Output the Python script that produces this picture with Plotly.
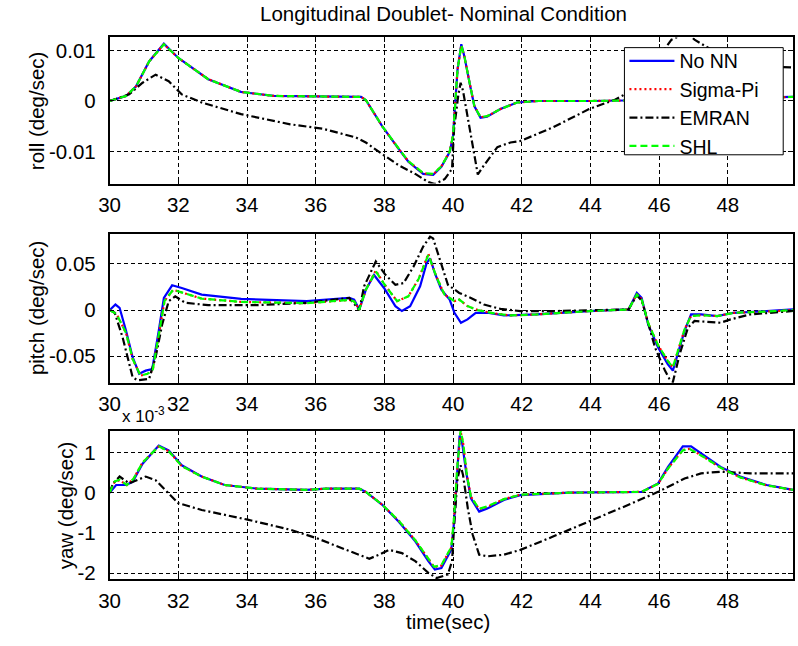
import plotly.graph_objects as go

# ---------------- data ----------------
# time ticks shared by all three panels
x_ticks = [30, 32, 34, 36, 38, 40, 42, 44, 46, 48]

# roll rate (deg/sec)
roll_t_nonn = [30, 30.48, 30.77, 31.15, 31.58, 32.0, 32.87, 33.82, 34.78, 36.0, 37.0, 37.32, 37.46,
               37.94, 38.42, 38.7, 39.13, 39.42, 39.66, 39.9, 40.0, 40.06, 40.13, 40.24, 40.33, 40.48,
               40.62, 40.8, 40.99, 41.38, 41.86, 42.5, 44.0, 46.0, 48.0, 49.9]
roll_nonn = [0, 0.001, 0.0029, 0.0078, 0.0113, 0.0085, 0.0043, 0.0018, 0.001, 0.0009, 0.0009, 0.0008,
             0.0002, -0.005, -0.0095, -0.012, -0.0144, -0.0146, -0.013, -0.0101, -0.0069, -0.001, 0.0062,
             0.0112, 0.0088, 0.0036, -0.001, -0.0033, -0.0031, -0.0016, -0.0003, 0.0, 0.0, 0.0002,
             0.0006, 0.0008]
roll_sigma = [0, 0.001, 0.0029, 0.0078, 0.0112, 0.0085, 0.0043, 0.0018, 0.001, 0.0009, 0.0009, 0.0008,
              0.0002, -0.005, -0.0095, -0.0119, -0.0143, -0.0145, -0.0129, -0.01, -0.0068, -0.001, 0.0062,
              0.011, 0.0088, 0.0036, -0.001, -0.0032, -0.003, -0.0016, -0.0003, 0.0, 0.0, 0.0002,
              0.0006, 0.0008]
roll_shl = [0, 0.001, 0.0029, 0.0078, 0.0112, 0.0085, 0.0043, 0.0018, 0.001, 0.0009, 0.0009, 0.0008,
            0.0002, -0.005, -0.0094, -0.0119, -0.0142, -0.0144, -0.0129, -0.01, -0.0068, -0.001, 0.0062,
            0.011, 0.0088, 0.0036, -0.001, -0.0032, -0.003, -0.0016, -0.0003, 0.0, 0.0, 0.0002,
            0.0006, 0.0008]
roll_t_emran = [30, 30.57, 30.96, 31.34, 31.72, 32.1, 32.68, 33.83, 35.26, 36.22, 37.17, 37.46, 37.94,
                38.42, 38.9, 39.28, 39.47, 39.76, 39.97, 40.03, 40.15, 40.22, 40.29, 40.38, 40.53, 40.72,
                40.9, 41.1, 41.29, 41.67, 41.96, 42.91, 43.96, 44.73, 45.0, 45.6, 46.36, 46.8, 47.03,
                47.6, 48.5, 49.2, 49.9]
roll_emran = [0, 0.0013, 0.0036, 0.0052, 0.0039, 0.0013, -0.0003, -0.0026, -0.0046, -0.0055, -0.0072,
              -0.0082, -0.0105, -0.0127, -0.0144, -0.016, -0.0164, -0.0154, -0.0134, -0.0055, 0.001,
              0.0036, 0.002, -0.0016, -0.0075, -0.0145, -0.0127, -0.0108, -0.0091, -0.0082, -0.0079,
              -0.0052, -0.0016, 0.0003, 0.0013, 0.005, 0.0121, 0.0135, 0.0121, 0.0098, 0.0078, 0.0068,
              0.0066]

# pitch rate (deg/sec)
pitch_t_nonn = [30, 30.17, 30.29, 30.48, 30.67, 30.86, 31.05, 31.24, 31.43, 31.58, 31.82, 32.1, 32.68,
                33.83, 35.74, 36.98, 37.12, 37.27, 37.46, 37.7, 37.99, 38.32, 38.51, 38.75, 39.04, 39.23,
                39.33, 39.47, 39.66, 39.9, 40.04, 40.23, 40.42, 40.66, 41.0, 41.48, 42.43, 43.96, 45.11,
                45.35, 45.49, 45.68, 45.97, 46.25, 46.4, 46.55, 46.74, 46.93, 47.22, 47.69, 48.17, 49.13,
                49.9]
pitch_nonn = [0, 0.006, 0.0025, -0.0226, -0.051, -0.069, -0.0656, -0.064, -0.0226, 0.0132, 0.0269,
              0.024, 0.0168, 0.0122, 0.0097, 0.0132, 0.0114, 0.0007, 0.022, 0.038, 0.024, 0.0043, -0.001,
              0.0043, 0.0258, 0.0508, 0.0562, 0.0401, 0.0222, 0.0114, -0.0029, -0.0137, -0.0101,
              -0.0029, -0.0029, -0.0058, -0.0047, -0.0011, 0.0007, 0.0186, 0.0132, -0.0155, -0.0405,
              -0.0585, -0.0656, -0.0477, -0.0226, -0.0047, -0.0047, -0.0065, -0.0029, -0.0011, 0.0007]
pitch_t_shl = [30, 30.2, 30.48, 30.67, 30.9, 31.1, 31.25, 31.43, 31.6, 31.85, 32.1, 32.68, 33.83, 35.74,
               36.98, 37.12, 37.27, 37.46, 37.75, 38.0, 38.37, 38.7, 39.0, 39.28, 39.51, 39.75, 40.04,
               40.18, 40.42, 40.72, 41.19, 41.67, 42.43, 43.96, 45.11, 45.35, 45.49, 45.68, 45.97, 46.25,
               46.4, 46.55, 46.74, 46.93, 47.22, 47.69, 48.17, 49.13, 49.9]
pitch_sigma = [0, -0.004, -0.025, -0.053, -0.071, -0.069, -0.066, -0.025, 0.01, 0.022, 0.019, 0.0125,
               0.0089, 0.0075, 0.011, 0.0095, 0.0005, 0.022, 0.043, 0.028, 0.0097, 0.015, 0.034, 0.061,
               0.0366, 0.0168, 0.0097, 0.0114, 0.0043, 0.0, -0.0036, -0.0058, -0.0047, -0.0011, 0.0007,
               0.017, 0.012, -0.014, -0.038, -0.055, -0.062, -0.045, -0.021, -0.0065, -0.0055, -0.0065,
               -0.003, -0.0015, 0.0]
pitch_shl = [0, -0.004, -0.025, -0.053, -0.071, -0.069, -0.066, -0.025, 0.01, 0.022, 0.019, 0.0125,
             0.0089, 0.0075, 0.011, 0.0095, 0.0005, 0.022, 0.042, 0.028, 0.0097, 0.015, 0.034, 0.06,
             0.0366, 0.0168, 0.0097, 0.0114, 0.0043, 0.0, -0.0036, -0.0058, -0.0047, -0.0011, 0.0007,
             0.017, 0.012, -0.014, -0.038, -0.055, -0.062, -0.045, -0.021, -0.0065, -0.0055, -0.0065,
             -0.003, -0.0015, 0.0]
pitch_t_emran = [30, 30.15, 30.38, 30.67, 30.81, 31.15, 31.34, 31.53, 31.72, 31.91, 32.2, 32.87, 34.3,
                 35.74, 36.98, 37.27, 37.41, 37.75, 38.03, 38.32, 38.56, 38.85, 39.13, 39.33, 39.42,
                 39.61, 39.85, 40.18, 40.52, 40.9, 41.38, 41.96, 43.0, 45.11, 45.35, 45.5, 45.88, 46.17,
                 46.3, 46.4, 46.6, 46.84, 47.03, 47.79, 48.08, 48.65, 49.84, 49.9]
pitch_emran = [0, -0.003, -0.0298, -0.0728, -0.076, -0.0746, -0.051, -0.0155, 0.0097, 0.015, 0.0079,
               0.0054, 0.0054, 0.0079, 0.0132, 0.0, 0.0258, 0.0527, 0.0383, 0.0275, 0.0293, 0.0473,
               0.0688, 0.0796, 0.0777, 0.0544, 0.0275, 0.0186, 0.0132, 0.006, 0.0014, -0.0011, -0.001,
               0.0007, 0.016, 0.01, -0.0405, -0.0656, -0.0746, -0.078, -0.0477, -0.019, -0.0118, -0.0137,
               -0.0101, -0.0047, -0.0011, -0.001]

# yaw rate (x 10^-3 deg/sec)
yaw_t_nonn = [30, 30.19, 30.48, 30.67, 30.96, 31.43, 31.72, 32.1, 32.68, 33.35, 34.3, 35.74, 36.31,
              37.27, 37.46, 37.94, 38.42, 38.9, 39.28, 39.47, 39.66, 39.95, 40.03, 40.12, 40.19, 40.26,
              40.38, 40.52, 40.76, 41.0, 41.48, 41.96, 43.39, 45.49, 45.97, 46.26, 46.69, 46.93, 47.31,
              47.79, 48.36, 49.13, 49.9]
yaw_nonn = [0, 0.19, 0.19, 0.27, 0.72, 1.17, 1.05, 0.68, 0.4, 0.19, 0.1, 0.07, 0.1, 0.1, 0.02, -0.3,
            -0.72, -1.21, -1.7, -1.91, -1.87, -1.41, -0.72, 0.52, 1.42, 1.26, 0.52, -0.14, -0.47, -0.39,
            -0.18, -0.06, 0.0, 0.02, 0.23, 0.64, 1.15, 1.15, 0.93, 0.64, 0.4, 0.19, 0.07]
yaw_t_shl = [30, 30.15, 30.29, 30.5, 30.7, 30.96, 31.43, 31.72, 32.1, 32.68, 33.35, 34.3, 35.74, 36.31,
             37.27, 37.46, 37.94, 38.42, 38.9, 39.28, 39.45, 39.66, 39.95, 40.03, 40.12, 40.22, 40.3,
             40.4, 40.52, 40.76, 41.0, 41.48, 41.96, 43.39, 45.49, 45.97, 46.26, 46.69, 46.9, 47.31,
             47.79, 48.36, 49.13, 49.9]
yaw_sigma = [0, 0.27, 0.31, 0.19, 0.35, 0.75, 1.15, 1.03, 0.66, 0.4, 0.19, 0.1, 0.07, 0.1, 0.1, 0.02,
             -0.3, -0.7, -1.18, -1.66, -1.85, -1.81, -1.36, -0.62, 0.58, 1.52, 1.2, 0.45, -0.1, -0.41,
             -0.35, -0.16, -0.05, 0.0, 0.02, 0.22, 0.6, 1.06, 1.09, 0.88, 0.62, 0.38, 0.18, 0.07]
yaw_shl = [0, 0.28, 0.32, 0.19, 0.35, 0.75, 1.15, 1.03, 0.66, 0.4, 0.19, 0.1, 0.07, 0.1, 0.1, 0.02, -0.3,
           -0.7, -1.18, -1.65, -1.84, -1.8, -1.35, -0.6, 0.6, 1.55, 1.2, 0.45, -0.1, -0.4, -0.34, -0.16,
           -0.05, 0.0, 0.02, 0.22, 0.6, 1.05, 1.08, 0.88, 0.62, 0.38, 0.18, 0.07]
yaw_t_emran = [30, 30.1, 30.29, 30.57, 31.05, 31.34, 31.72, 32.0, 32.68, 34.02, 35.26, 36.03, 36.89,
               37.56, 37.84, 38.13, 38.51, 38.9, 39.28, 39.52, 39.85, 39.97, 40.04, 40.13, 40.22, 40.29,
               40.43, 40.57, 40.76, 41.0, 41.48, 41.96, 42.91, 43.96, 45.11, 45.97, 46.74, 47.22, 47.79,
               48.65, 49.9]
yaw_emran = [0, 0.23, 0.4, 0.23, 0.4, 0.31, -0.02, -0.26, -0.43, -0.67, -0.92, -1.13, -1.42, -1.64,
             -1.54, -1.42, -1.5, -1.7, -1.99, -2.12, -2.03, -1.7, -0.72, 0.35, 0.68, 0.44, -0.39, -1.04,
             -1.54, -1.58, -1.54, -1.42, -1.09, -0.72, -0.3, 0.02, 0.35, 0.48, 0.52, 0.48, 0.48]

roll_ticks = [-0.01, 0, 0.01]
roll_ticktext = ["-0.01", "0", "0.01"]
pitch_ticks = [-0.05, 0, 0.05]
pitch_ticktext = ["-0.05", "0", "0.05"]
yaw_ticks = [-2, -1, 0, 1]
yaw_ticktext = ["-2", "-1", "0", "1"]

# ---------------- styling ----------------
W, H = 798, 646
FONT = "Liberation Sans, Arial, sans-serif"
FS = 20.5
styles = {
    "No NN": dict(color="#0000ff", dash="solid", width=2.2),
    "Sigma-Pi": dict(color="#ff0000", dash="2px,3px", width=2.2),
    "EMRAN": dict(color="#000000", dash="8px,3px,2px,3px", width=2.2),
    "SHL": dict(color="#00ff00", dash="7px,4px", width=2.2),
}

panels = [
    # (series, y-range, ticks, ticktext, y-title, pixel top, pixel bottom, title x centre)
    ([("No NN", roll_t_nonn, roll_nonn), ("Sigma-Pi", roll_t_nonn, roll_sigma),
      ("EMRAN", roll_t_emran, roll_emran), ("SHL", roll_t_nonn, roll_shl)],
     [-0.0163, 0.01255], roll_ticks, roll_ticktext, "roll (deg/sec)", 37.7, 185, 26),
    ([("No NN", pitch_t_nonn, pitch_nonn), ("Sigma-Pi", pitch_t_shl, pitch_sigma),
      ("EMRAN", pitch_t_emran, pitch_emran), ("SHL", pitch_t_shl, pitch_shl)],
     [-0.0787, 0.0823], pitch_ticks, pitch_ticktext, "pitch (deg/sec)", 236, 385.7, 26),
    ([("No NN", yaw_t_nonn, yaw_nonn), ("Sigma-Pi", yaw_t_shl, yaw_sigma),
      ("EMRAN", yaw_t_emran, yaw_emran), ("SHL", yaw_t_shl, yaw_shl)],
     [-2.155, 1.54], yaw_ticks, yaw_ticktext, "yaw (deg/sec)", 434, 584, 55),
]

X_LEFT, X_RIGHT = 100, 793
txt_font = dict(family=FONT, size=FS, color="#000000")

fig = go.Figure()
layout = dict(
    width=W, height=H,
    margin=dict(l=0, r=0, t=0, b=0),
    paper_bgcolor="white", plot_bgcolor="white",
    font=txt_font,
    showlegend=True,
)
annotations = []

for i, (series, yr, ytv, ytt, ytitle, ptop, pbot, tx) in enumerate(panels, start=1):
    xa = "x" if i == 1 else f"x{i}"
    ya = "y" if i == 1 else f"y{i}"
    for name, t, v in series:
        st = styles[name]
        fig.add_trace(go.Scatter(
            x=t, y=v, mode="lines", name=name, xaxis=xa, yaxis=ya,
            line=dict(color=st["color"], dash=st["dash"], width=st["width"]),
            showlegend=(i == 1), legendrank={"No NN": 1, "Sigma-Pi": 2, "EMRAN": 3, "SHL": 4}[name],
        ))
    common = dict(
        showline=True, linecolor="#000000", linewidth=1.5, mirror="ticks",
        ticks="inside", ticklen=5, tickcolor="#000000",
        showgrid=True, gridcolor="#000000", gridwidth=1, griddash="4px,3px",
        zeroline=False, tickfont=txt_font,
    )
    layout["xaxis" if i == 1 else f"xaxis{i}"] = dict(
        common, domain=[X_LEFT / W, X_RIGHT / W], anchor=ya, range=[30, 49.9],
        tickvals=x_ticks, ticktext=[str(v) for v in x_ticks], ticklabelstandoff=2,
    )
    layout["yaxis" if i == 1 else f"yaxis{i}"] = dict(
        common, domain=[1 - pbot / H, 1 - ptop / H], anchor=xa, range=yr,
        tickvals=ytv, ticktext=ytt, ticklabelstandoff=8,
    )
    # rotated axis label on the left of each panel
    annotations.append(dict(
        text=ytitle, xref="paper", yref="paper", textangle=-90,
        x=tx / W, y=1 - (ptop + pbot) / 2 / H, xanchor="center", yanchor="middle",
        showarrow=False, font=txt_font,
    ))

annotations.append(dict(
    text="time(sec)", xref="paper", yref="paper",
    x=443 / W, y=1 - 626 / H, xanchor="center", yanchor="middle",
    showarrow=False, font=txt_font,
))
# axis multiplier for the yaw panel
annotations.append(dict(
    text="x 10<sup>-3</sup>", xref="paper", yref="paper",
    x=111 / W, y=1 - 418 / H, xanchor="left", yanchor="middle",
    showarrow=False, font=dict(family=FONT, size=17, color="#000000"),
))

layout["title"] = dict(
    text="Longitudinal Doublet- Nominal Condition",
    x=443.5 / W, xanchor="center", y=1 - 14 / H, yanchor="middle",
    font=txt_font,
)
# legend entries float over a framed white box drawn above the curves
layout["legend"] = dict(
    x=622 / W, y=1 - 42 / H, xanchor="left", yanchor="top",
    bgcolor="rgba(0,0,0,0)", borderwidth=0,
    font=dict(family=FONT, size=19.5, color="#000000"),
    itemwidth=45, tracegroupgap=0,
)
layout["shapes"] = [dict(
    type="rect", xref="paper", yref="paper", layer="above",
    x0=622 / W, x1=783 / W, y0=1 - 156 / H, y1=1 - 48 / H,
    fillcolor="white", line=dict(color="#000000", width=1),
)]
layout["annotations"] = annotations

fig.update_layout(**layout)
fig.write_html("out.html")
